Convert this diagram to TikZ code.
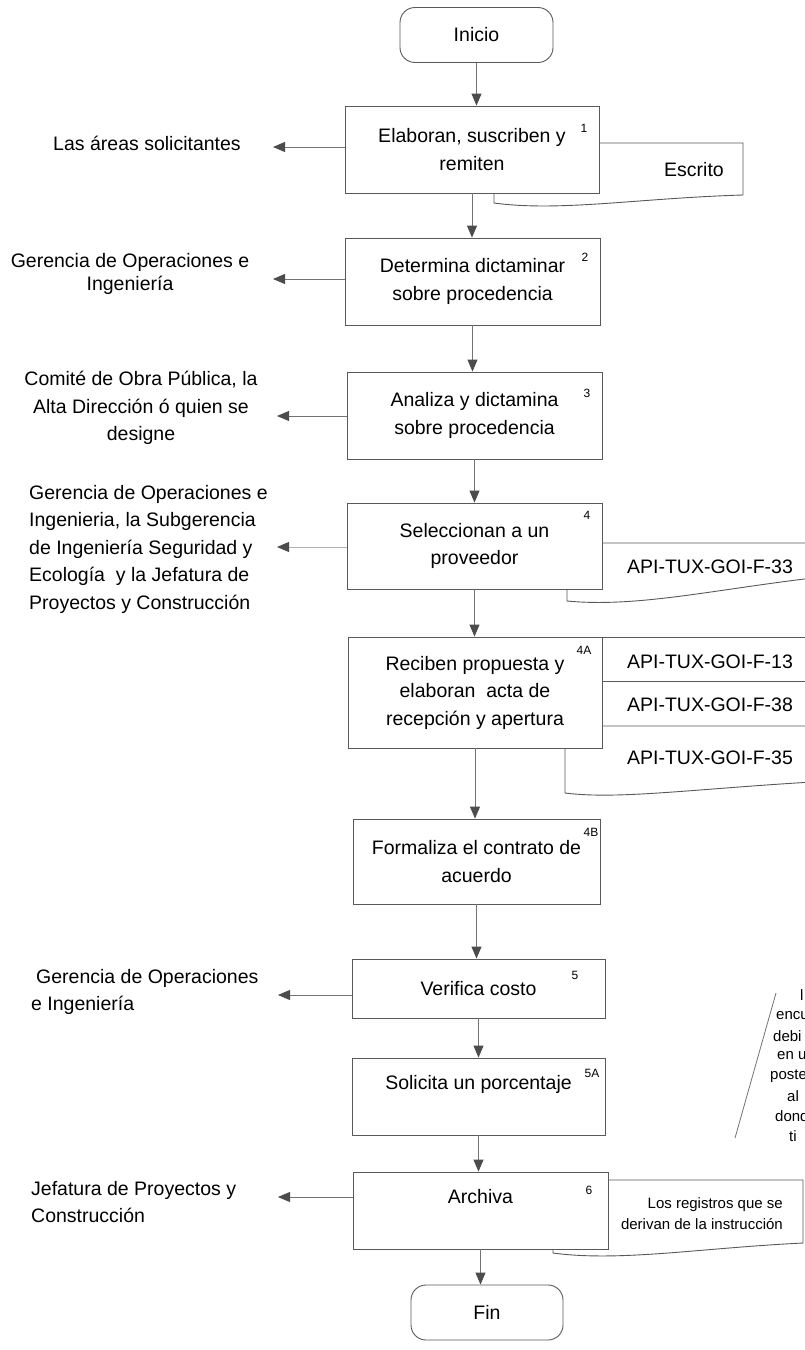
\documentclass[tikz,border=0pt]{standalone}
\usepackage{fontspec}
\setmainfont{Liberation Sans}
\usetikzlibrary{arrows.meta,positioning}

\newcommand{\boxfont}{\fontsize{19.5}{27.5}\selectfont}
\newcommand{\notefont}{\fontsize{15}{21}\selectfont}

\begin{document}
\begin{tikzpicture}[x=1pt, y=-1pt,
    stepbox/.style={rectangle, draw=black!65, fill=white, line width=0.9pt, minimum width=254pt,
                    minimum height=87pt, inner sep=2pt, align=center, font=\boxfont},
    term/.style={rectangle, rounded corners=15pt, draw=black!65, fill=white, line width=0.9pt,
                 minimum width=153pt, minimum height=55pt, font=\boxfont},
    num/.style={font=\fontsize{12}{14}\selectfont, inner sep=0pt},
    who/.style={font=\boxfont, inner sep=0pt},
    doc/.style={draw=black!65, fill=white, line width=0.9pt},
    doctext/.style={font=\boxfont, inner sep=0pt},
    note/.style={font=\notefont, inner sep=0pt, anchor=west},
    flow/.style={draw=black!55, line width=0.9pt, -{Triangle[length=12pt, width=10pt, color=black!70]}}
]
    \fill[white] (0,0) rectangle (804,1350);
    \useasboundingbox (0,0) rectangle (804,1350);

    % Documents behind the boxes
    \draw[doc] (494,193) -- (494,203) .. controls (560,212) and (640,198) .. (743,195) -- (743,143) -- (599,143);
    \node[doctext] (d1) at (694,170) {Escrito};
    \draw[doc] (567,589) -- (567,601) .. controls (640,608) and (720,588) .. (830,576) -- (830,543) -- (602,543);
    \node[doctext] (d4) at (710,567) {API-TUX-GOI-F-33};
    \draw[doc] (565,637) rectangle (830,700);
    \draw[doc] (565,681) rectangle (830,745);
    \draw[doc] (565,726) -- (565,793) .. controls (620,800) and (700,788) .. (830,781) -- (830,726) -- cycle;
    \node[doctext] (d4a1) at (710,662) {API-TUX-GOI-F-13};
    \node[doctext] (d4a2) at (710,705) {API-TUX-GOI-F-38};
    \node[doctext] (d4a3) at (710,758) {API-TUX-GOI-F-35};
    \draw[doc] (553,1249) -- (553,1253) .. controls (620,1262) and (700,1248) .. (803,1243) -- (803,1180) -- (608,1180);
    \node[font=\notefont, align=right, inner sep=0pt, anchor=east] (d6) at (783,1214)
        {Los registros que se\\derivan de la instrucción};

    % Steps
    \node[term] (ini) at (476.5,35) {Inicio};
    \node[stepbox] (b1) at (472,149.5) {Elaboran, suscriben y\\remiten};
    \node[stepbox, minimum width=255pt] (b2) at (472.5,281.5) {Determina dictaminar\\sobre procedencia};
    \node[stepbox, minimum width=255pt] (b3) at (474.5,415.5) {Analiza y dictamina\\sobre procedencia};
    \node[stepbox, minimum width=255pt, minimum height=86pt] (b4) at (474.5,546) {Seleccionan a un\\proveedor};
    \node[stepbox, minimum height=111pt] (b4a) at (475,692.5) {Reciben propuesta y\\elaboran\ \ acta de\\recepción y apertura};
    \node[stepbox, minimum width=247pt, minimum height=85pt] (b4b) at (476.5,861.5) {Formaliza el contrato de\\acuerdo};
    \node[stepbox, minimum width=253pt, minimum height=59pt] (b5) at (478.5,988.5) {Verifica costo};
    \node[stepbox, minimum width=253pt, minimum height=77pt] (b5a) at (478.5,1096.5) {Solicita un porcentaje\\\mbox{}};
    \node[stepbox, minimum width=255pt, minimum height=77pt] (b6) at (480.5,1210.5) {Archiva\\\mbox{}};
    \node[term, minimum width=152pt] (fin) at (487,1312.5) {Fin};

    % Step numbers
    \node[num] (n1) at (584,128) {1};
    \node[num] (n2) at (585,257) {2};
    \node[num] (n3) at (587,393) {3};
    \node[num] (n4) at (587,515) {4};
    \node[num] (n4a) at (584,650) {4A};
    \node[num] (n4b) at (591,832) {4B};
    \node[num] (n5) at (575,975) {5};
    \node[num] (n5a) at (592,1073) {5A};
    \node[num] (n6) at (589,1190) {6};

    % Flow
    \draw[flow] (ini.south) -- (ini.south |- b1.north);
    \draw[flow] (b1.south) -- (b1.south |- b2.north);
    \draw[flow] (b2.south) -- (b2.south |- b3.north);
    \draw[flow] (b3.south) -- (b3.south |- b4.north);
    \draw[flow] (b4.south) -- (b4.south |- b4a.north);
    \draw[flow] (b4a.south) -- (b4a.south |- b4b.north);
    \draw[flow] (b4b.south) -- (b4b.south |- b5.north);
    \draw[flow] (b5.south) -- (b5.south |- b5a.north);
    \draw[flow] (b5a.south) -- (b5a.south |- b6.north);
    \draw[flow] (b6.south) -- (b6.south |- fin.north);

    % Who does each step
    \node[who] (w1) at (147,143) {Las áreas solicitantes};
    \node[who, align=center, font=\fontsize{19.5}{23}\selectfont] (w2) at (130,274) {Gerencia de Operaciones e\\Ingeniería};
    \node[who, align=center] (w3) at (141,408) {Comité de Obra Pública, la\\Alta Dirección ó quien se\\designe};
    \node[who, align=left, anchor=west] (w4) at (29,549) {Gerencia de Operaciones e\\Ingenieria, la Subgerencia\\de Ingeniería Seguridad y\\Ecología\ \ y la Jefatura de\\Proyectos y Construcción};
    \node[who, align=left, anchor=west] (w5) at (31,992) {\hspace{5pt}Gerencia de Operaciones\\e Ingeniería};
    \node[who, align=left, anchor=west] (w6) at (31,1202) {Jefatura de Proyectos y\\Construcción};

    \coordinate (r1) at (273,147);
    \coordinate (r2) at (273,279);
    \coordinate (r3) at (277,416);
    \coordinate (r4) at (277,547);
    \coordinate (r5) at (278,995);
    \coordinate (r6) at (278,1197);
    \draw[flow] (b1.west |- r1) -- (r1);
    \draw[flow] (b2.west |- r2) -- (r2);
    \draw[flow] (b3.west |- r3) -- (r3);
    \draw[flow, draw=black!30] (b4.west |- r4) -- (r4);
    \draw[flow] (b5.west |- r5) -- (r5);
    \draw[flow] (b6.west |- r6) -- (r6);

    % Note cut by the page edge
    \draw[black!55, line width=0.8pt] (776,993) -- (735,1138);
    \node[note] (c0) at (800,995) {l};
    \node[note] (c1) at (776,1016) {encu};
    \node[note] (c2) at (773,1036) {debi};
    \node[note] (c3) at (777,1056) {en u};
    \node[note] (c4) at (770,1076) {poste};
    \node[note] (c5) at (787,1096) {al};
    \node[note] (c6) at (775,1116) {dond};
    \node[note] (c7) at (789,1136) {ti};
\end{tikzpicture}
\end{document}
